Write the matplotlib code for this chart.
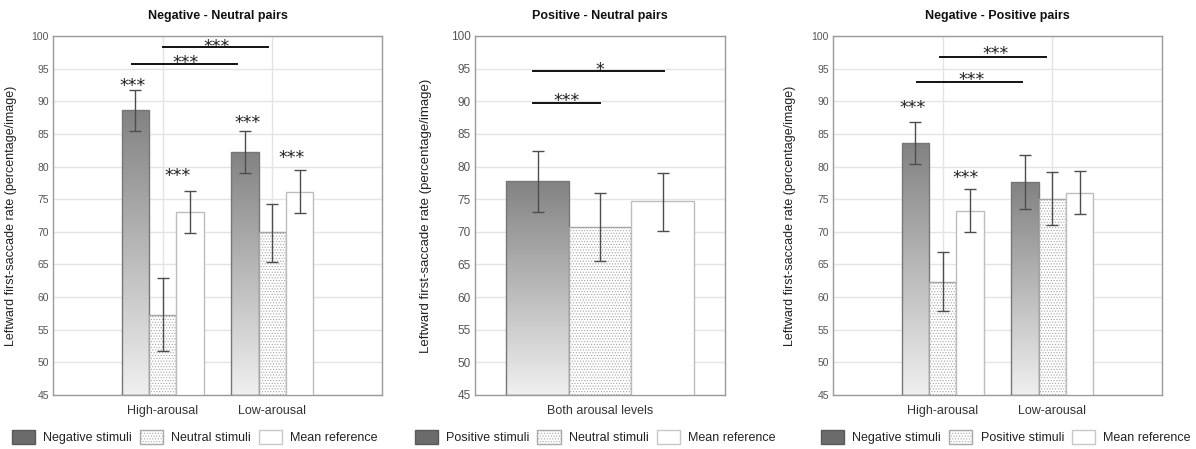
import numpy as np
import matplotlib
matplotlib.use('Agg')
import matplotlib.pyplot as plt
from matplotlib.colors import LinearSegmentedColormap
from matplotlib.patches import Patch

plt.rcParams['font.family'] = ['Liberation Sans', 'DejaVu Sans']
plt.rcParams['hatch.linewidth'] = 0.5

# ---- data ----
# Panel 1: Negative - Neutral pairs
p1_categories = ['High-arousal', 'Low-arousal']
p1_negative = [88.7, 82.3]
p1_negative_lo = [85.4, 79.0]
p1_negative_hi = [91.7, 85.4]
p1_neutral = [57.3, 69.9]
p1_neutral_lo = [51.7, 65.4]
p1_neutral_hi = [62.9, 74.3]
p1_mean = [73.0, 76.1]
p1_mean_lo = [69.8, 72.9]
p1_mean_hi = [76.2, 79.4]

# Panel 2: Positive - Neutral pairs
p2_categories = ['Both arousal levels']
p2_positive = [77.8]
p2_positive_lo = [73.0]
p2_positive_hi = [82.4]
p2_neutral = [70.8]
p2_neutral_lo = [65.6]
p2_neutral_hi = [76.0]
p2_mean = [74.7]
p2_mean_lo = [70.2]
p2_mean_hi = [79.0]

# Panel 3: Negative - Positive pairs
p3_categories = ['High-arousal', 'Low-arousal']
p3_negative = [83.6, 77.6]
p3_negative_lo = [80.4, 73.5]
p3_negative_hi = [86.8, 81.7]
p3_positive = [62.3, 75.1]
p3_positive_lo = [57.9, 71.1]
p3_positive_hi = [66.9, 79.2]
p3_mean = [73.2, 76.0]
p3_mean_lo = [70.0, 72.8]
p3_mean_hi = [76.5, 79.3]

# significance brackets: (x start, x end, y, label, label x, label y)
p1_brackets = [(0.72, 1.68, 95.7, '***', 1.21, 96.5),
               (1.00, 1.96, 98.3, '***', 1.49, 98.9)]
p2_brackets = [(0.732, 1.256, 94.6, '*', 1.0, 95.4),
               (0.732, 1.0, 89.7, '***', 0.868, 90.6)]
p3_brackets = [(0.77, 1.72, 93.0, '***', 1.26, 93.9),
               (0.98, 1.94, 96.8, '***', 1.48, 97.8)]
# stars above bars: (x, y)
p1_stars = [(0.73, 92.9), (1.14, 79.1), (1.77, 87.3), (2.18, 81.9)]
p3_stars = [(0.73, 89.5), (1.21, 78.8)]

YMIN, YMAX = 45, 100
YLABEL = 'Leftward first-saccade rate (percentage/image)'
STAR_SHIFT = 0.6  # asterisks sit high in their text box

grad_cmap = LinearSegmentedColormap.from_list('grad', ['#f0f0f0', '#828282'])
gradient = np.linspace(0, 1, 256).reshape(-1, 1)


def draw_panel(ax, categories, series, xlim, width, title, brackets, stars,
               tick_fs, ylabel_x, ylabel_fs, vgrid=True):
    x = np.arange(1, len(categories) + 1)
    offsets = [-width, 0, width]
    ax.set_xlim(*xlim)
    ax.set_ylim(YMIN, YMAX)
    ax.set_yticks(np.arange(45, 101, 5))
    ax.yaxis.grid(True, color='#e4e4e4', linewidth=1, zorder=0)
    if vgrid:
        ax.xaxis.grid(True, color='#e4e4e4', linewidth=1, zorder=0)
    ax.set_axisbelow(True)

    for i, (vals, lo, hi, kind) in enumerate(series):
        vals = np.array(vals); lo = np.array(lo); hi = np.array(hi)
        xs = x + offsets[i]
        if kind == 'grad':
            bars = ax.bar(xs, vals - YMIN, width, bottom=YMIN, facecolor='none',
                          edgecolor='#777777', linewidth=1, zorder=3)
            for b in bars:
                x0, y0 = b.get_xy()
                im = ax.imshow(gradient, extent=[x0, x0 + b.get_width(), y0, y0 + b.get_height()],
                               origin='lower', cmap=grad_cmap, aspect='auto', zorder=2,
                               interpolation='bilinear')
                im.set_clip_path(b)
        elif kind == 'dots':
            ax.bar(xs, vals - YMIN, width, bottom=YMIN, facecolor='white',
                   edgecolor='#a5a5a5', hatch='......', linewidth=1, zorder=3)
        else:
            ax.bar(xs, vals - YMIN, width, bottom=YMIN, facecolor='white',
                   edgecolor='#bdbdbd', linewidth=1, zorder=3)
        ax.errorbar(xs, vals, yerr=[vals - lo, hi - vals], fmt='none', ecolor='#4d4d4d',
                    elinewidth=1, capsize=4.5, capthick=1, zorder=5)

    ax.set_xlim(*xlim)
    ax.set_ylim(YMIN, YMAX)

    for x0, x1, y, lab, lx, ly in brackets:
        ax.plot([x0, x1], [y, y], color='#111111', linewidth=1.4, zorder=6)
        ax.text(lx, ly - STAR_SHIFT, lab, ha='center', va='center', fontsize=12.5,
                family='DejaVu Sans', color='#222222', zorder=7)
    for sx, sy in stars:
        ax.text(sx, sy - STAR_SHIFT, '***', ha='center', va='center', fontsize=12.5,
                family='DejaVu Sans', color='#222222', zorder=7)

    ax.set_xticks(x)
    ax.set_xticklabels(categories, fontsize=9, color='#333333')
    ax.tick_params(axis='x', length=0, pad=7)
    ax.tick_params(axis='y', length=0, pad=3, labelsize=tick_fs, labelcolor='#555555')
    for s in ax.spines.values():
        s.set_color('#9a9a9a')
        s.set_linewidth(1)
    ax.set_title(title, fontsize=9, fontweight='bold', color='#111111', pad=12)
    ax.set_ylabel(YLABEL, fontsize=ylabel_fs, color='#222222')
    ax.yaxis.set_label_coords(ylabel_x, 0.5)


fig = plt.figure(figsize=(11.96, 4.49), dpi=100)
fig.patch.set_facecolor('white')

ax1 = fig.add_axes([53 / 1196, 54 / 449, 329 / 1196, 359 / 449])
ax2 = fig.add_axes([475 / 1196, 54 / 449, 250 / 1196, 359 / 449])
ax3 = fig.add_axes([833 / 1196, 54 / 449, 329 / 1196, 359 / 449])

draw_panel(ax1, p1_categories,
           [(p1_negative, p1_negative_lo, p1_negative_hi, 'grad'),
            (p1_neutral, p1_neutral_lo, p1_neutral_hi, 'dots'),
            (p1_mean, p1_mean_lo, p1_mean_hi, 'white')],
           (0, 3), 0.25, 'Negative - Neutral pairs', p1_brackets, p1_stars,
           7.5, -0.11, 9)
draw_panel(ax2, p2_categories,
           [(p2_positive, p2_positive_lo, p2_positive_hi, 'grad'),
            (p2_neutral, p2_neutral_lo, p2_neutral_hi, 'dots'),
            (p2_mean, p2_mean_lo, p2_mean_hi, 'white')],
           (0.5, 1.5), 0.25, 'Positive - Neutral pairs', p2_brackets, [],
           8.5, -0.172, 9.5, vgrid=False)
draw_panel(ax3, p3_categories,
           [(p3_negative, p3_negative_lo, p3_negative_hi, 'grad'),
            (p3_positive, p3_positive_lo, p3_positive_hi, 'dots'),
            (p3_mean, p3_mean_lo, p3_mean_hi, 'white')],
           (0, 3), 0.25, 'Negative - Positive pairs', p3_brackets, p3_stars,
           7.5, -0.112, 9)

# legends under each panel
def legend_handles(first, second):
    return [Patch(facecolor='#6b6b6b', edgecolor='#5a5a5a', label=first),
            Patch(facecolor='white', edgecolor='#a8a8a8', hatch='......', label=second),
            Patch(facecolor='white', edgecolor='#c8c8c8', label='Mean reference')]

for cx, names in [(195 / 1196, ('Negative stimuli', 'Neutral stimuli')),
                  (595 / 1196, ('Positive stimuli', 'Neutral stimuli')),
                  (1006 / 1196, ('Negative stimuli', 'Positive stimuli'))]:
    leg = fig.legend(handles=legend_handles(*names), loc='center', bbox_to_anchor=(cx, 12 / 449),
                     ncol=3, frameon=False, fontsize=9, handlelength=1.85, handleheight=1.3,
                     handletextpad=0.65, columnspacing=0.65, borderpad=0)
    for t in leg.get_texts():
        t.set_color('#222222')

fig.savefig('out.png', dpi=100, facecolor='white')
